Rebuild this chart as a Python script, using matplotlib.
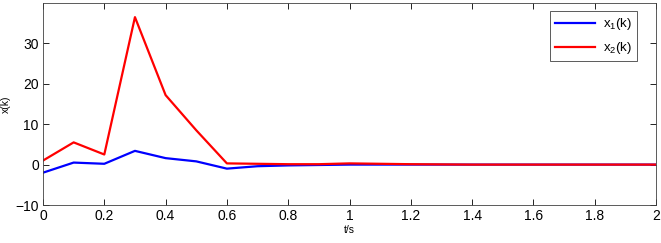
import numpy as np
import matplotlib.pyplot as plt

plt.rcParams['font.family'] = ['Liberation Sans', 'DejaVu Sans']
plt.rcParams['mathtext.fontset'] = 'custom'
plt.rcParams['mathtext.rm'] = 'Liberation Sans'

# sample instants and state values
t = [0.0, 0.1, 0.2, 0.3, 0.4, 0.5, 0.6, 0.7, 0.8, 0.9, 1.0,
     1.1, 1.2, 1.3, 1.4, 1.5, 1.6, 1.7, 1.8, 1.9, 2.0]
x1 = [-2.0, 0.5, 0.2, 3.4, 1.6, 0.8, -1.0, -0.4, -0.2, -0.1, 0.0,
      0.0, 0.0, 0.0, 0.0, 0.0, 0.0, 0.0, 0.0, 0.0, 0.0]
x2 = [1.0, 5.5, 2.5, 36.5, 17.2, 8.5, 0.3, 0.2, 0.1, 0.1, 0.3,
      0.2, 0.1, 0.05, 0.0, 0.0, 0.0, 0.0, 0.0, 0.0, 0.0]
xticks = [0, 0.2, 0.4, 0.6, 0.8, 1, 1.2, 1.4, 1.6, 1.8, 2]
yticks = [-10, 0, 10, 20, 30]

fig = plt.figure(figsize=(6.61, 2.43), dpi=100)
ax = fig.add_axes([43 / 661, 38 / 243, 613 / 661, 202 / 243])

ax.plot(t, x1, color='#0000ff', lw=1.6, label=r'x$_{\rm 1}$(k)')
ax.plot(t, x2, color='#ff0000', lw=1.6, label=r'x$_{\rm 2}$(k)')

ax.set_xlim(0, 2)
ax.set_ylim(-10, 40)
ax.set_xticks(xticks)
ax.set_xticklabels(['0', '0.2', '0.4', '0.6', '0.8', '1', '1.2', '1.4', '1.6', '1.8', '2'])
ax.set_yticks(yticks)
ax.tick_params(direction='in', top=True, right=True, labelsize=10, length=4, width=0.6, pad=3)
for s in ax.spines.values():
    s.set_linewidth(0.6)
    s.set_color('#404040')

ax.set_xlabel('t/s', fontsize=7.5, labelpad=1)
ax.set_ylabel('x(k)', fontsize=7.5, labelpad=3)

leg = ax.legend(loc='upper right', bbox_to_anchor=(1 - 19 / 613, 1 - 8 / 202),
                borderaxespad=0, fontsize=9.5, fancybox=False, framealpha=1,
                edgecolor='#404040', handlelength=3.0, handletextpad=0.6,
                labelspacing=0.6)
leg.get_frame().set_linewidth(0.6)

plt.savefig('out.png', dpi=100)
